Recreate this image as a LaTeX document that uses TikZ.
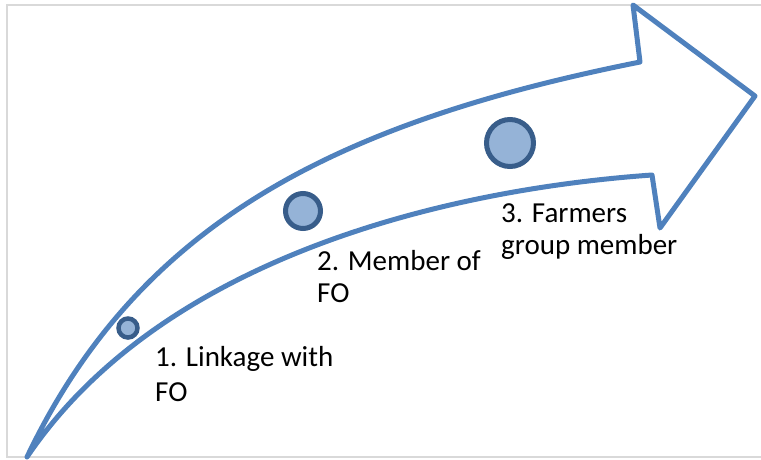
\documentclass[tikz,border=0pt]{standalone}
\usepackage{fontspec}
\setmainfont{Carlito}
\definecolor{arrowblue}{HTML}{4F81BD}
\definecolor{dotfill}{HTML}{95B3D7}
\definecolor{dotline}{HTML}{385D8A}
\definecolor{framegray}{HTML}{D9D9D9}
\tikzset{
  stage/.style={circle,draw=dotline,fill=dotfill,line width=5pt,inner sep=0pt},
  stagetext/.style={anchor=base west,align=left,inner sep=0pt,font=\fontsize{29}{32}\selectfont},
}
\begin{document}
\begin{tikzpicture}[x=1pt,y=-1pt]
    \useasboundingbox (0,0) rectangle (761,459);
    \coordinate (tail) at (27,457);
    \coordinate (headA) at (640,62);
    \coordinate (headTop) at (633,5);
    \coordinate (headTip) at (755,96);
    \coordinate (headBot) at (660,228);
    \coordinate (headB) at (652,175);
    % 枠
    \draw[framegray,line width=2pt] (770,5) -- (7,5) -- (7,457) -- (770,457);
    % 矢印の輪郭
    \draw[arrowblue,line width=5pt,line join=round] (tail) .. controls (140,220) and (340,122) .. (headA)
        -- (headTop) -- (headTip) -- (headBot) -- (headB)
        .. controls (440,190) and (160,260) .. (tail) -- cycle;
    \node[stage,minimum size=19pt,line width=4.5pt] (dotA) at (128,328) {};
    \node[stage,minimum size=35pt] (dotB) at (303,211) {};
    \node[stage,minimum size=47pt] (dotC) at (510,143) {};
    % ラベル（最終行のベースライン）
    \node[stagetext] (textA) at (155,401) {1. Linkage with\\[3pt]FO};
    \node[stagetext] (textB) at (317,302) {2. Member of\\FO};
    \node[stagetext] (textC) at (501,254) {3. Farmers\\group member};
\end{tikzpicture}
\end{document}
